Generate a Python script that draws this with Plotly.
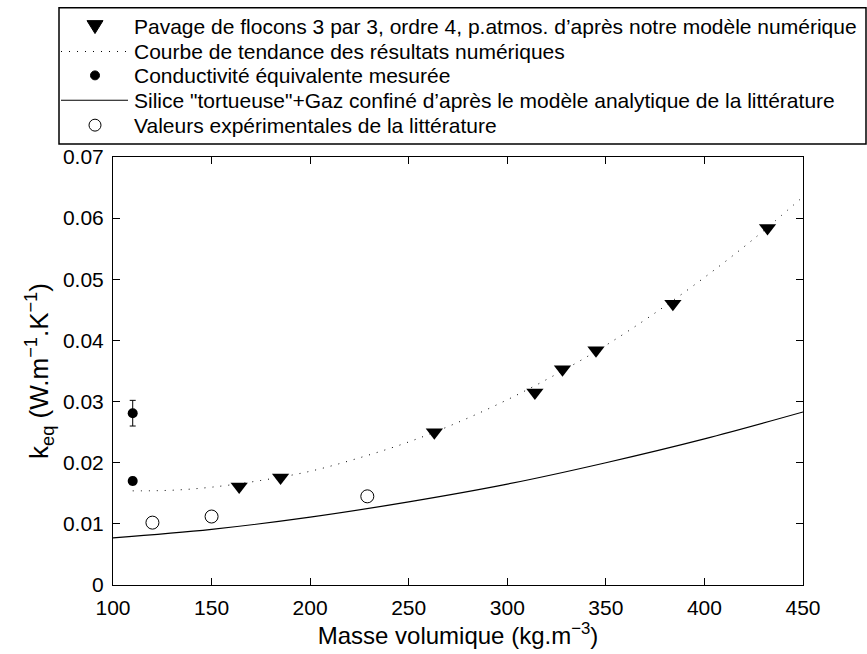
import plotly.graph_objects as go

# Numerical model: 3x3 flake tiling, order 4, atmospheric pressure
rho_num = [164, 185, 263, 314, 328, 345, 384, 432]
k_num = [0.0161, 0.0176, 0.0250, 0.0315, 0.0353, 0.0384, 0.0460, 0.0584]

# Trend curve of the numerical results
rho_trend = [110, 130, 150, 175, 200, 225, 250, 275, 300, 325, 350, 375, 400, 425, 450]
k_trend = [0.0154, 0.0155, 0.0160, 0.0171, 0.0186, 0.0208, 0.0234, 0.0266,
           0.0303, 0.0345, 0.0392, 0.0445, 0.0503, 0.0566, 0.0635]

# Measured equivalent conductivity (with uncertainty)
rho_meas = [110, 110]
k_meas = [0.0281, 0.0170]
k_meas_err = [0.0021, 0.0006]

# Analytical model: tortuous silica + confined gas
rho_model = [100, 150, 200, 250, 300, 350, 400, 450]
k_model = [0.0077, 0.0091, 0.0111, 0.0136, 0.0165, 0.0200, 0.0239, 0.0283]

# Experimental values from the literature
rho_lit = [120, 150, 229]
k_lit = [0.0102, 0.0112, 0.0145]

x_ticks = [100, 150, 200, 250, 300, 350, 400, 450]
y_ticks = [0, 0.01, 0.02, 0.03, 0.04, 0.05, 0.06, 0.07]
y_tick_text = ["0", "0.01", "0.02", "0.03", "0.04", "0.05", "0.06", "0.07"]

legend_labels = [
    "Pavage de flocons 3 par 3, ordre 4, p.atmos. d\u2019après notre modèle numérique",
    "Courbe de tendance des résultats numériques",
    "Conductivité équivalente mesurée",
    "Silice \"tortueuse\"+Gaz confiné d\u2019après le modèle analytique de la littérature",
    "Valeurs expérimentales de la littérature",
]

W, H = 867, 654
L, R, T, B = 113, 64, 157, 67
FONT = "Liberation Sans, Arial, Helvetica, sans-serif"
DOTTED = "1px,7px"


def px(x, y):
    """Pixel position on the page -> paper coordinates."""
    return (x - L) / (W - L - R), (H - B - y) / (H - T - B)


fig = go.Figure()

fig.add_trace(go.Scatter(x=rho_trend, y=k_trend, mode="lines", line_shape="spline",
                         line=dict(color="black", width=1, dash=DOTTED)))
fig.add_trace(go.Scatter(x=rho_model, y=k_model, mode="lines", line_shape="spline",
                         line=dict(color="black", width=1.2)))
fig.add_trace(go.Scatter(x=rho_num, y=k_num, mode="markers",
                         marker=dict(symbol="triangle-down", size=15, color="black")))
fig.add_trace(go.Scatter(x=rho_meas, y=k_meas, mode="markers",
                         marker=dict(symbol="circle", size=10, color="black"),
                         error_y=dict(type="data", array=k_meas_err, color="black",
                                      thickness=1, width=3)))
fig.add_trace(go.Scatter(x=rho_lit, y=k_lit, mode="markers",
                         marker=dict(symbol="circle-open", size=13, color="black",
                                     line=dict(width=1))))

# ---- legend box, drawn by hand above the axes ----
box_l, box_r, box_t, box_b = 59, 866, 7, 144
x0, y0 = px(box_l, box_t)
x1, y1 = px(box_r, box_b)
fig.add_shape(type="rect", xref="paper", yref="paper", x0=x0, y0=y0, x1=x1, y1=y1,
              line=dict(color="black", width=1.5), fillcolor="rgba(0,0,0,0)", layer="above")

row_y = [26, 51, 75, 100, 125]
text_x = 134
sym_x = 95
for lab, ry in zip(legend_labels, row_y):
    ax, ay = px(text_x, ry)
    fig.add_annotation(x=ax, y=ay, xref="paper", yref="paper", text=lab, showarrow=False,
                       xanchor="left", yanchor="middle", xshift=-2,
                       font=dict(family=FONT, size=21, color="black"))

# line samples
for ry, dash, wd in [(row_y[1], DOTTED, 1), (row_y[3], "solid", 1.2)]:
    a0, b0 = px(61, ry)
    a1, b1 = px(128, ry)
    fig.add_shape(type="line", xref="paper", yref="paper", x0=a0, y0=b0, x1=a1, y1=b1,
                  line=dict(color="black", width=wd, dash=dash), layer="above")

# triangle sample
tri = [px(sym_x - 8, row_y[0] - 6), px(sym_x + 8, row_y[0] - 6), px(sym_x, row_y[0] + 7)]
path = "M {} {} L {} {} L {} {} Z".format(*[v for p in tri for v in p])
fig.add_shape(type="path", xref="paper", yref="paper", path=path,
              fillcolor="black", line=dict(color="black", width=1), layer="above")


def circle_sample(cy, d, filled):
    a0, b0 = px(sym_x - d / 2, cy + d / 2)
    a1, b1 = px(sym_x + d / 2, cy - d / 2)
    fig.add_shape(type="circle", xref="paper", yref="paper", x0=a0, y0=b0, x1=a1, y1=b1,
                  fillcolor="black" if filled else "rgba(0,0,0,0)",
                  line=dict(color="black", width=1), layer="above")


circle_sample(row_y[2], 9, True)
circle_sample(row_y[4], 12, False)

axis_common = dict(ticks="inside", ticklen=7, tickcolor="black", tickwidth=1,
                   showline=True, linecolor="black", linewidth=1, mirror="ticks",
                   showgrid=False, zeroline=False,
                   tickfont=dict(family=FONT, size=21, color="black"))

fig.update_layout(
    width=W, height=H,
    margin=dict(l=L, r=R, t=T, b=B),
    paper_bgcolor="white", plot_bgcolor="white",
    showlegend=False,
    xaxis=dict(range=[100, 450], tickvals=x_ticks, ticklabelstandoff=4,
               title=dict(text="Masse volumique (kg.m<sup>\u22123</sup>)",
                          font=dict(family=FONT, size=24, color="black"), standoff=6),
               **axis_common),
    yaxis=dict(range=[0, 0.07], tickvals=y_ticks, ticktext=y_tick_text, ticklabelstandoff=4,
               title=dict(text="k<sub>eq</sub> (W.m<sup>\u22121</sup>.K<sup>\u22121</sup>)",
                          font=dict(family=FONT, size=26, color="black"), standoff=6),
               **axis_common),
)

fig.write_html("out.html")
